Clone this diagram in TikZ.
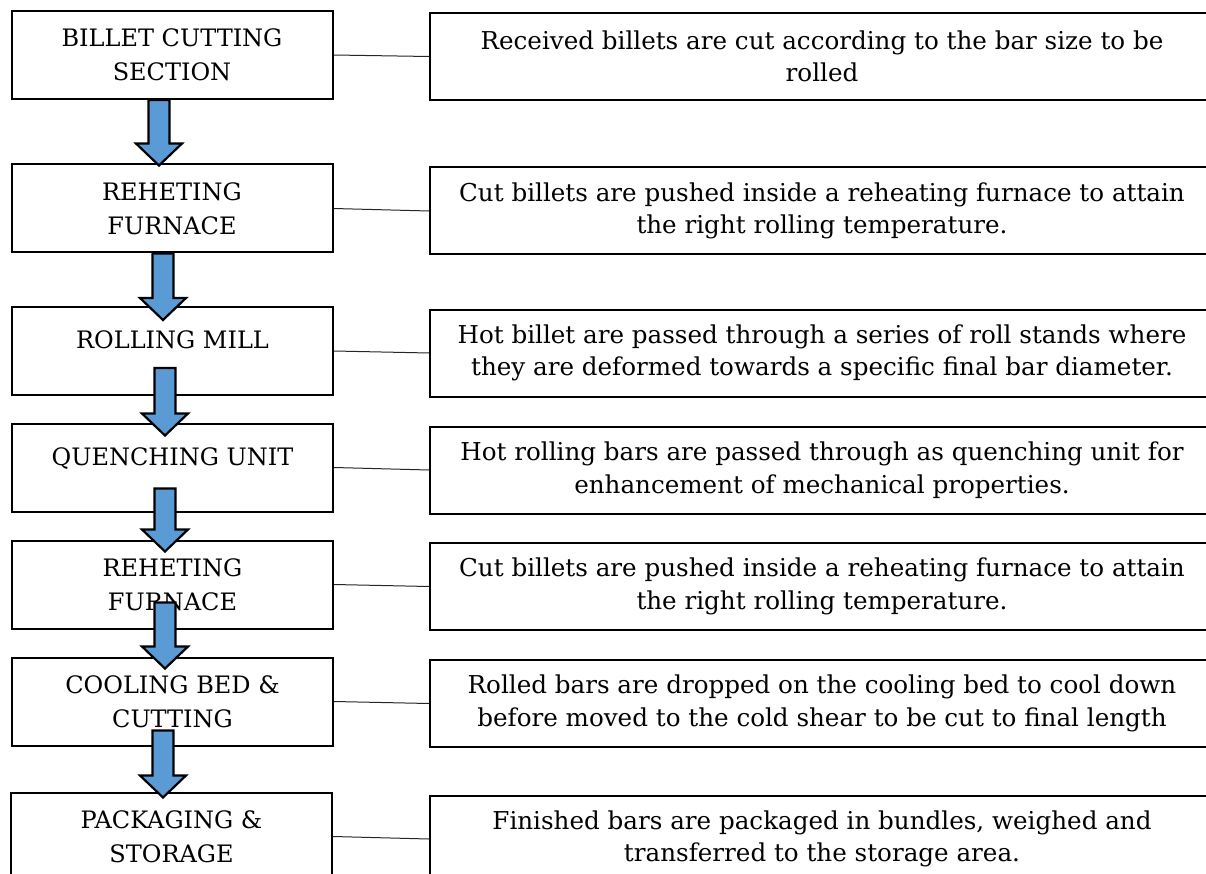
\documentclass[tikz,border=0pt]{standalone}
\usepackage{fontspec}
\setmainfont{DejaVu Serif}
\usetikzlibrary{calc}
\definecolor{flowblue}{HTML}{5B9BD5}

% block arrow between two stage boxes (x from the start point, tip at the end point)
\newcommand{\flowarrow}[2]{%
  \draw[flow] let \p1=(#1), \p2=(#2) in
    (\x1-10.5pt,\y1) -- (\x1+10.5pt,\y1) -- (\x1+10.5pt,\y2+22pt)
    -- (\x1+23pt,\y2+22pt) -- (\x1,\y2) -- (\x1-23pt,\y2+22pt)
    -- (\x1-10.5pt,\y2+22pt) -- cycle;}

\begin{document}
\begin{tikzpicture}[
  x=1pt, y=-1pt,
  stage/.style={
    draw, line width=2pt, fill=white, minimum width=321pt, minimum height=88pt,
    font=\fontsize{24}{34}\selectfont, align=center, inner sep=0pt
  },
  oneline/.style={text depth=22pt},
  note/.style={
    draw, line width=2pt, fill=white, minimum width=784pt, minimum height=87pt,
    font=\fontsize{24.6}{32.5}\selectfont, align=center, inner sep=0pt
  },
  link/.style={line width=1pt, black!85},
  flow/.style={draw=black, line width=2.2pt, fill=flowblue, line join=miter},
]

\useasboundingbox (0,0) rectangle (1206,874);

% =============================================
% Left: process stages
% =============================================
\node[stage] (billet)  at (172,55)    {BILLET CUTTING\\SECTION};
\node[stage] (reheat)  at (172,208.5) {REHETING\\FURNACE};
\node[stage, oneline] (rolling) at (172.5,351)   {ROLLING MILL};
\node[stage, oneline] (quench)  at (172.5,467.5) {QUENCHING UNIT};
\node[stage] (reheatb) at (172.5,584.5) {REHETING\\FURNACE};
\node[stage] (cooling) at (172.5,701.5) {COOLING BED \&\\CUTTING};
\node[stage] (packing) at (171.5,836.5) {PACKAGING \&\\STORAGE};

% =============================================
% Right: descriptions
% =============================================
\node[note] (billet-txt)  at (822,56.5)
  {Received billets are cut according to the bar size to be\\rolled};
\node[note] (reheat-txt)  at (822,211)
  {Cut billets are pushed inside a reheating furnace to attain\\the right rolling temperature.};
\node[note] (rolling-txt) at (822,353)
  {Hot billet are passed through a series of roll stands where\\they are deformed towards a specific final bar diameter.};
\node[note] (quench-txt)  at (822,470)
  {Hot rolling bars are passed through as quenching unit for\\enhancement of mechanical properties.};
\node[note] (reheatb-txt) at (822,586.5)
  {Cut billets are pushed inside a reheating furnace to attain\\the right rolling temperature.};
\node[note] (cooling-txt) at (822,703.5)
  {Rolled bars are dropped on the cooling bed to cool down\\before moved to the cold shear to be cut to final length};
\node[note] (packing-txt) at (822,839)
  {Finished bars are packaged in bundles, weighed and\\transferred to the storage area.};

% =============================================
% Links stage -> description
% =============================================
\foreach \s in {billet, reheat, rolling, quench, reheatb, cooling, packing}
  \draw[link] (\s.east) -- (\s-txt.west);

% =============================================
% Block arrows
% =============================================
\flowarrow{[xshift=-13pt]billet.south}{[yshift=-2pt]reheat.north}
\flowarrow{[xshift=-9pt]reheat.south}{[yshift=-14pt]rolling.north}
\flowarrow{[xshift=-7.5pt,yshift=28pt]rolling.south}{[yshift=-13pt]quench.north}
\flowarrow{[xshift=-7.5pt,yshift=24pt]quench.south}{[yshift=-12pt]reheatb.north}
\flowarrow{[xshift=-7.5pt,yshift=27pt]reheatb.south}{[yshift=-12pt]cooling.north}
\flowarrow{[xshift=-9.5pt,yshift=16pt]cooling.south}{[yshift=-6pt]packing.north}

\end{tikzpicture}
\end{document}
